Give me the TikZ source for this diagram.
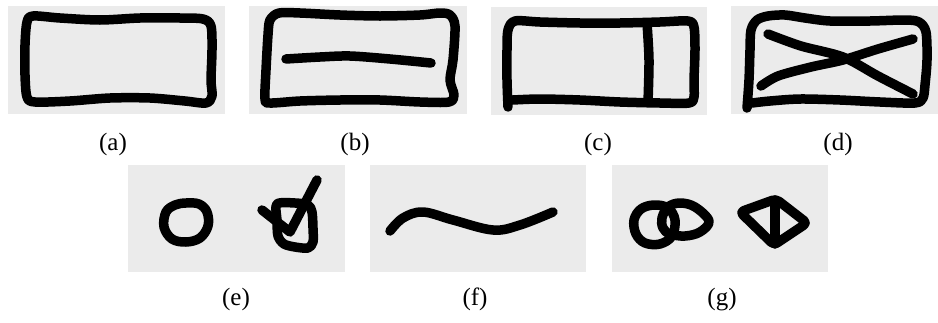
\documentclass[tikz,border=0pt]{standalone}
\usepackage{fontspec}
\setmainfont{Liberation Serif}
\definecolor{panelgray}{HTML}{EBEBEB}
\tikzset{
  panelbg/.style={fill=panelgray, draw=none},
  sk/.style={line width=9.5pt, line cap=round, line join=round, draw=black},
  lab/.style={font=\fontsize{25}{30}\selectfont, anchor=base, inner sep=0pt},
}
\begin{document}
\begin{tikzpicture}[x=1pt, y=-1pt]
\useasboundingbox (0,0) rectangle (938,322);
% panels
\fill[panelbg] (8,6) rectangle (225,114);
\fill[panelbg] (249,6) rectangle (467,114);
\fill[panelbg] (491,7) rectangle (707,115);
\fill[panelbg] (731,6) rectangle (938,114);
\fill[panelbg] (128,165) rectangle (345,272);
\fill[panelbg] (370,165) rectangle (586,272);
\fill[panelbg] (612,165) rectangle (828,272);
% (a)
\draw[sk] plot[smooth cycle, tension=0.5] coordinates {(33,16) (60,18) (100,20) (140,18) (180,18) (203,19) (211,26) (212,50) (211,80) (212,96) (206,103) (185,101) (150,98) (110,98) (70,101) (35,102) (27,97) (25,75) (25,45) (27,22)};
% (b)
\draw[sk] plot[smooth cycle, tension=0.5] coordinates {(279,13) (300,13) (340,15) (380,16) (420,15) (440,13) (450,15) (455,26) (453,60) (450,80) (454,95) (449,102) (420,102) (380,100) (340,100) (300,101) (270,103) (265,99) (266,70) (268,35) (270,20)};
\draw[sk] plot[smooth, tension=0.5] coordinates {(286,59) (320,57) (350,56) (390,59) (431,63)};
% (c)
\draw[sk] plot[smooth, tension=0.5] coordinates {(508,107) (507,80) (507,50) (508,30) (515,21) (540,22) (580,23) (620,23) (660,22) (688,21) (694,27) (695,50) (694,80) (694,97) (689,103) (660,103) (620,102) (580,100) (540,99) (513,100)};
\draw[sk] plot[smooth, tension=0.5] coordinates {(647,23) (649,60) (648,102)};
% (d)
\draw[sk] plot[smooth, tension=0.5] coordinates {(747,108) (749,80) (750,50) (751,30) (757,20) (768,16) (785,15) (805,18) (830,21) (870,21) (905,20) (919,22) (926,32) (927,60) (925,85) (923,98) (915,103) (880,102) (840,100) (800,99) (770,101) (752,103)};
\draw[sk] plot[smooth, tension=0.5] coordinates {(768,34) (801,46) (843,57) (878,76) (913,94)};
\draw[sk] plot[smooth, tension=0.5] coordinates {(761,86) (778,76) (811,67) (843,60) (878,49) (913,39)};
% (e)
\draw[sk] plot[smooth cycle, tension=0.6] coordinates {(186,203) (199,204) (207,212) (208,226) (200,238) (186,242) (172,239) (164,227) (166,212) (175,205)};
\draw[sk] plot[smooth cycle, tension=0.5] coordinates {(277,204) (295,203) (308,205) (312,212) (313,228) (313,242) (308,248) (295,247) (284,244) (278,236) (277,220)};
\draw[sk] (262,210) -- (290,232) -- (317,180);
% (f)
\draw[sk] plot[smooth, tension=0.6] coordinates {(390,231) (403,218) (423,212) (453,220) (493,230) (520,225) (553,212)};
% (g)
\draw[sk] plot[smooth cycle, tension=0.6] coordinates {(654,205) (668,208) (675,220) (672,236) (660,244) (645,243) (636,234) (634,220) (641,209)};
\draw[sk] plot[smooth cycle, tension=0.6] coordinates {(662,218) (668,207) (680,203) (695,207) (709,221) (700,232) (685,236) (670,234) (663,228)};
\draw[sk, rounded corners=4pt] (740,212) -- (776,199) -- (807,223) -- (774,245) -- cycle;
\draw[sk] (775,200) -- (775,244);
% labels
\node[lab] (la) at (113,150) {(a)};
\node[lab] (lb) at (355,150) {(b)};
\node[lab] (lc) at (598,150) {(c)};
\node[lab] (ld) at (838,150) {(d)};
\node[lab] (le) at (236,305) {(e)};
\node[lab] (lf) at (475,305) {(f)};
\node[lab] (lg) at (722,305) {(g)};
\end{tikzpicture}
\end{document}
